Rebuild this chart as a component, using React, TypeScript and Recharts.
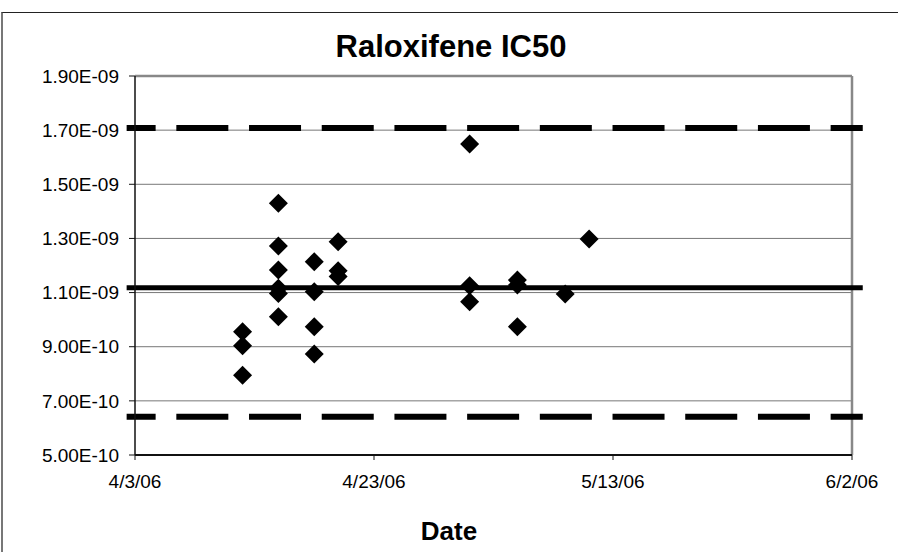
import React from 'react'
import { ScatterChart, Scatter, XAxis, YAxis, CartesianGrid, ReferenceLine } from 'recharts'

const DAY = 86400000
const toDay = (s: string) => Date.parse(s + 'T00:00:00Z') / DAY

// sample dates and measured IC50 (M)
const sampleDates = [
  '2006-04-12', '2006-04-12', '2006-04-12',
  '2006-04-15', '2006-04-15', '2006-04-15', '2006-04-15', '2006-04-15', '2006-04-15',
  '2006-04-18', '2006-04-18', '2006-04-18', '2006-04-18',
  '2006-04-20', '2006-04-20', '2006-04-20',
  '2006-05-01', '2006-05-01', '2006-05-01',
  '2006-05-05', '2006-05-05', '2006-05-05',
  '2006-05-09',
  '2006-05-11',
]
const ic50Values = [
  9.55e-10, 9.04e-10, 7.95e-10,
  1.43e-9, 1.272e-9, 1.183e-9, 1.116e-9, 1.097e-9, 1.011e-9,
  1.214e-9, 1.103e-9, 9.74e-10, 8.73e-10,
  1.288e-9, 1.181e-9, 1.159e-9,
  1.649e-9, 1.125e-9, 1.066e-9,
  1.146e-9, 1.128e-9, 9.74e-10,
  1.095e-9,
  1.298e-9,
]

// control limits: upper, mean, lower
const upperLimit = 1.708e-9
const meanLine = 1.118e-9
const lowerLimit = 6.41e-10

const dateTicks = ['2006-04-03', '2006-04-23', '2006-05-13', '2006-06-02']
const valueTicks = [5e-10, 7e-10, 9e-10, 1.1e-9, 1.3e-9, 1.5e-9, 1.7e-9, 1.9e-9]

// limit lines run a little past the axis range (in days)
const limitStartDays = -0.7
const limitEndDays = 60.9

const points = sampleDates.map((d, i) => ({ day: toDay(d), ic50: ic50Values[i] }))
const xTicks = dateTicks.map(toDay)
const xMin = xTicks[0]
const xMax = xTicks[xTicks.length - 1]
const limitFrom = xMin + limitStartDays
const limitTo = xMin + limitEndDays

const font = '"Liberation Sans", Arial, sans-serif'

const fmtDate = (v: number) => {
  const d = new Date(v * DAY)
  return `${d.getUTCMonth() + 1}/${d.getUTCDate()}/${String(d.getUTCFullYear()).slice(2)}`
}

const fmtSci = (v: number) => {
  const [m, e] = v.toExponential(2).split('e')
  const n = Math.abs(parseInt(e, 10))
  return `${m}E${e.startsWith('-') ? '-' : '+'}${String(n).padStart(2, '0')}`
}

const Diamond = (props: any) => {
  const { cx, cy } = props
  const r = 9.5
  return (
    <polygon
      points={`${cx},${cy - r} ${cx + r},${cy} ${cx},${cy + r} ${cx - r},${cy}`}
      fill="#000"
    />
  )
}

export default function App() {
  return (
    <div
      style={{
        position: 'absolute',
        left: 0,
        top: 0,
        width: 898,
        height: 552,
        overflow: 'hidden',
        background: '#fff',
        fontFamily: font,
      }}
    >
      <div
        style={{
          position: 'absolute',
          left: 1,
          top: 12,
          width: 920,
          height: 600,
          borderLeft: '2px solid #777',
          borderTop: '1.5px solid #222',
        }}
      />
      <div
        style={{
          position: 'absolute',
          left: 451,
          top: 31,
          transform: 'translateX(-50%)',
          fontSize: 31,
          lineHeight: '31px',
          fontWeight: 'bold',
          whiteSpace: 'nowrap',
          color: '#000',
        }}
      >
        Raloxifene IC50
      </div>
      <div
        style={{
          position: 'absolute',
          left: 449,
          top: 518,
          transform: 'translateX(-50%)',
          fontSize: 26,
          lineHeight: '26px',
          fontWeight: 'bold',
          color: '#000',
        }}
      >
        Date
      </div>
      <ScatterChart
        width={898}
        height={552}
        margin={{ top: 76, right: 46, bottom: 0, left: 0 }}
        style={{ position: 'absolute', left: 0, top: 0 }}
      >
        <CartesianGrid vertical={false} stroke="#777" strokeWidth={1} />
        <XAxis
          type="number"
          dataKey="day"
          domain={[xMin, xMax]}
          ticks={xTicks}
          interval={0}
          tickFormatter={fmtDate}
          height={97}
          tickSize={5}
          tickMargin={15}
          axisLine={{ stroke: '#111', strokeWidth: 2 }}
          tickLine={{ stroke: '#111' }}
          tick={{ fontSize: 19, fill: '#000', fontFamily: font }}
        />
        <YAxis
          type="number"
          dataKey="ic50"
          domain={[5e-10, 1.9e-9]}
          ticks={valueTicks}
          interval={0}
          tickFormatter={fmtSci}
          width={135}
          tickSize={6}
          tickMargin={10}
          axisLine={{ stroke: '#111', strokeWidth: 1.5 }}
          tickLine={{ stroke: '#111' }}
          tick={{ fontSize: 19, fill: '#000', fontFamily: font }}
        />
        <ReferenceLine y={1.9e-9} stroke="#888" strokeWidth={2.5} />
        <ReferenceLine x={xMax} stroke="#888" strokeWidth={2.5} />
        <ReferenceLine
          segment={[{ x: limitFrom, y: upperLimit }, { x: limitTo, y: upperLimit }]}
          ifOverflow="visible"
          stroke="#000"
          strokeWidth={6}
          strokeDasharray="52 20.7"
          strokeDashoffset={23}
        />
        <ReferenceLine
          segment={[{ x: limitFrom, y: meanLine }, { x: limitTo, y: meanLine }]}
          ifOverflow="visible"
          stroke="#000"
          strokeWidth={5}
        />
        <ReferenceLine
          segment={[{ x: limitFrom, y: lowerLimit }, { x: limitTo, y: lowerLimit }]}
          ifOverflow="visible"
          stroke="#000"
          strokeWidth={6}
          strokeDasharray="52 20.7"
          strokeDashoffset={23}
        />
        <Scatter data={points} shape={Diamond} isAnimationActive={false} />
      </ScatterChart>
    </div>
  )
}
